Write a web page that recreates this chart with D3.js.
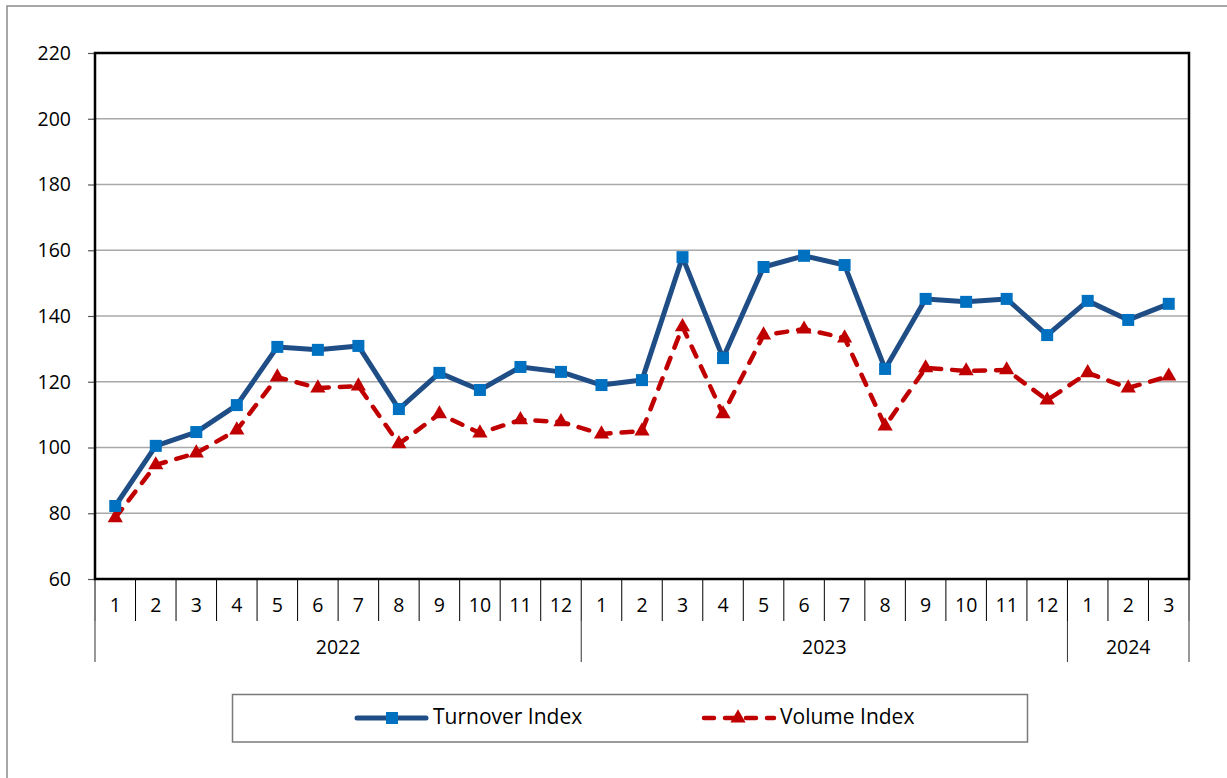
<!DOCTYPE html>
<html>
<head>
<meta charset="utf-8">
<script src="https://cdn.jsdelivr.net/npm/d3@7/dist/d3.min.js"></script>
<style>
  html, body { margin: 0; padding: 0; background: #fff; }
  svg { display: block; font-family: "Open Sans", "Noto Sans", sans-serif; }
</style>
</head>
<body>
<svg id="chart" width="1227" height="778"></svg>
<script>
// ---- data ----
const years = ["2022", "2023", "2024"];
const yearMonthCounts = [12, 12, 3];
const monthLabels = ["1","2","3","4","5","6","7","8","9","10","11","12",
                     "1","2","3","4","5","6","7","8","9","10","11","12",
                     "1","2","3"];
const turnoverIndex = [82.2, 100.5, 104.7, 112.9, 130.6, 129.7, 130.9, 111.7, 122.7, 117.5, 124.5, 123.0,
                       119.0, 120.5, 157.9, 127.2, 154.9, 158.3, 155.5, 123.9, 145.2, 144.3, 145.2, 134.2,
                       144.6, 138.8, 143.7];
const volumeIndex = [78.6, 94.7, 98.3, 105.3, 121.4, 118.1, 118.7, 101.1, 110.2, 104.4, 108.4, 107.8,
                     104.1, 105.0, 136.7, 110.2, 134.2, 136.0, 133.3, 106.5, 124.2, 123.3, 123.6, 114.4,
                     122.7, 118.1, 121.7];
const yTicks = [60, 80, 100, 120, 140, 160, 180, 200, 220];
const seriesNames = ["Turnover Index", "Volume Index"];

(function () {
// ---- layout ----
const svg = d3.select("#chart");
const pL = 95, pR = 1189, pT = 53, pB = 579;
const fs = 19.5;
const idx = monthLabels.map((d, i) => i);
const x = d3.scaleBand().domain(idx).range([pL, pR]).padding(0);
const y = d3.scaleLinear().domain([60, 220]).range([pB, pT]);

// outer frame
svg.append("rect").attr("x", 7).attr("y", 6).attr("width", 1240).attr("height", 800)
  .attr("fill", "none").attr("stroke", "#8a8a8a").attr("stroke-width", 1.5);

// gridlines
svg.append("g").selectAll("line").data(yTicks.filter(t => t > 60 && t < 220)).join("line")
  .attr("x1", pL).attr("x2", pR)
  .attr("y1", d => y(d)).attr("y2", d => y(d))
  .attr("stroke", "#a8a8a8").attr("stroke-width", 1.3);

// y axis
const yAxis = d3.axisLeft(y).tickValues(yTicks).tickSize(7).tickPadding(17).tickFormat(d3.format("d"));
const yg = svg.append("g").attr("transform", `translate(${pL},0)`).call(yAxis);
yg.select(".domain").remove();
yg.selectAll(".tick line").attr("stroke", "#555").attr("stroke-width", 1.2);
yg.selectAll(".tick text").attr("font-size", fs).attr("fill", "#000")
  .attr("font-family", "'Open Sans', sans-serif");

// category axis: month labels
const xAxis = d3.axisBottom(x).tickSize(0).tickPadding(0).tickFormat(i => monthLabels[i]);
const xg = svg.append("g").attr("transform", `translate(0,${pB})`).call(xAxis);
xg.select(".domain").remove();
xg.selectAll(".tick text").attr("font-size", fs).attr("fill", "#000")
  .attr("dy", null).attr("y", 28).attr("dominant-baseline", "middle")
  .attr("font-family", "'Open Sans', sans-serif");

// month dividers
const yearStarts = [];
let acc = 0;
yearMonthCounts.forEach(c => { yearStarts.push(acc); acc += c; });
const edges = d3.range(monthLabels.length + 1).map(i => i < monthLabels.length ? x(i) : x(i - 1) + x.bandwidth());
svg.append("g").selectAll("line").data(edges).join("line")
  .attr("x1", d => d).attr("x2", d => d)
  .attr("y1", pB).attr("y2", 621)
  .attr("stroke", "#000").attr("stroke-width", 1);

// year dividers
const yearEdges = yearStarts.map(s => x(s)).concat([pR]);
svg.append("g").selectAll("line").data(yearEdges).join("line")
  .attr("x1", d => d).attr("x2", d => d)
  .attr("y1", 621).attr("y2", 662)
  .attr("stroke", "#333").attr("stroke-width", 1);

// year labels
svg.append("g").selectAll("text").data(years).join("text")
  .attr("x", (d, i) => (x(yearStarts[i]) + x(yearStarts[i] + yearMonthCounts[i] - 1) + x.bandwidth()) / 2)
  .attr("y", 649).attr("dominant-baseline", "middle").attr("text-anchor", "middle")
  .attr("font-size", fs).attr("fill", "#000").text(d => d);

// plot border
svg.append("rect").attr("x", pL).attr("y", pT).attr("width", pR - pL).attr("height", pB - pT)
  .attr("fill", "none").attr("stroke", "#000").attr("stroke-width", 2.5);

// series
const cx = i => x(i) + x.bandwidth() / 2;
const line = d3.line().x((d, i) => cx(i)).y(d => y(d));

svg.append("path").datum(volumeIndex).attr("d", line)
  .attr("fill", "none").attr("stroke", "#C00000").attr("stroke-width", 4.5)
  .attr("stroke-dasharray", "11,11").attr("stroke-linecap", "round").attr("stroke-linejoin", "round");
svg.append("g").selectAll("path").data(volumeIndex).join("path")
  .attr("d", d3.symbol().type(d3.symbolTriangle).size(100))
  .attr("transform", (d, i) => `translate(${cx(i)},${y(d)})`)
  .attr("fill", "#C00000");

svg.append("path").datum(turnoverIndex).attr("d", line)
  .attr("fill", "none").attr("stroke", "#1F4E87").attr("stroke-width", 5)
  .attr("stroke-linejoin", "round");
svg.append("g").selectAll("rect").data(turnoverIndex).join("rect")
  .attr("x", (d, i) => cx(i) - 6).attr("y", d => y(d) - 6)
  .attr("width", 12).attr("height", 12).attr("fill", "#0070C0");

// legend
svg.append("rect").attr("x", 232.5).attr("y", 694.5).attr("width", 795).attr("height", 47.5)
  .attr("fill", "#fff").attr("stroke", "#7a7a7a").attr("stroke-width", 1.5);
const ly = 718;
svg.append("line").attr("x1", 357).attr("x2", 426).attr("y1", ly).attr("y2", ly)
  .attr("stroke", "#1F4E87").attr("stroke-width", 5).attr("stroke-linecap", "round");
svg.append("rect").attr("x", 386).attr("y", ly - 6).attr("width", 12).attr("height", 12).attr("fill", "#0070C0");
svg.append("text").attr("x", 433).attr("y", ly).attr("dominant-baseline", "middle")
  .attr("font-size", 21).attr("fill", "#000").text(seriesNames[0]);

svg.append("line").attr("x1", 704).attr("x2", 774).attr("y1", ly).attr("y2", ly)
  .attr("stroke", "#C00000").attr("stroke-width", 4.5).attr("stroke-dasharray", "10,11")
  .attr("stroke-linecap", "round");
svg.append("path").attr("d", d3.symbol().type(d3.symbolTriangle).size(100))
  .attr("transform", `translate(738,${ly})`).attr("fill", "#C00000");
svg.append("text").attr("x", 780).attr("y", ly).attr("dominant-baseline", "middle")
  .attr("font-size", 21).attr("fill", "#000").text(seriesNames[1]);
})();
</script>
</body>
</html>
